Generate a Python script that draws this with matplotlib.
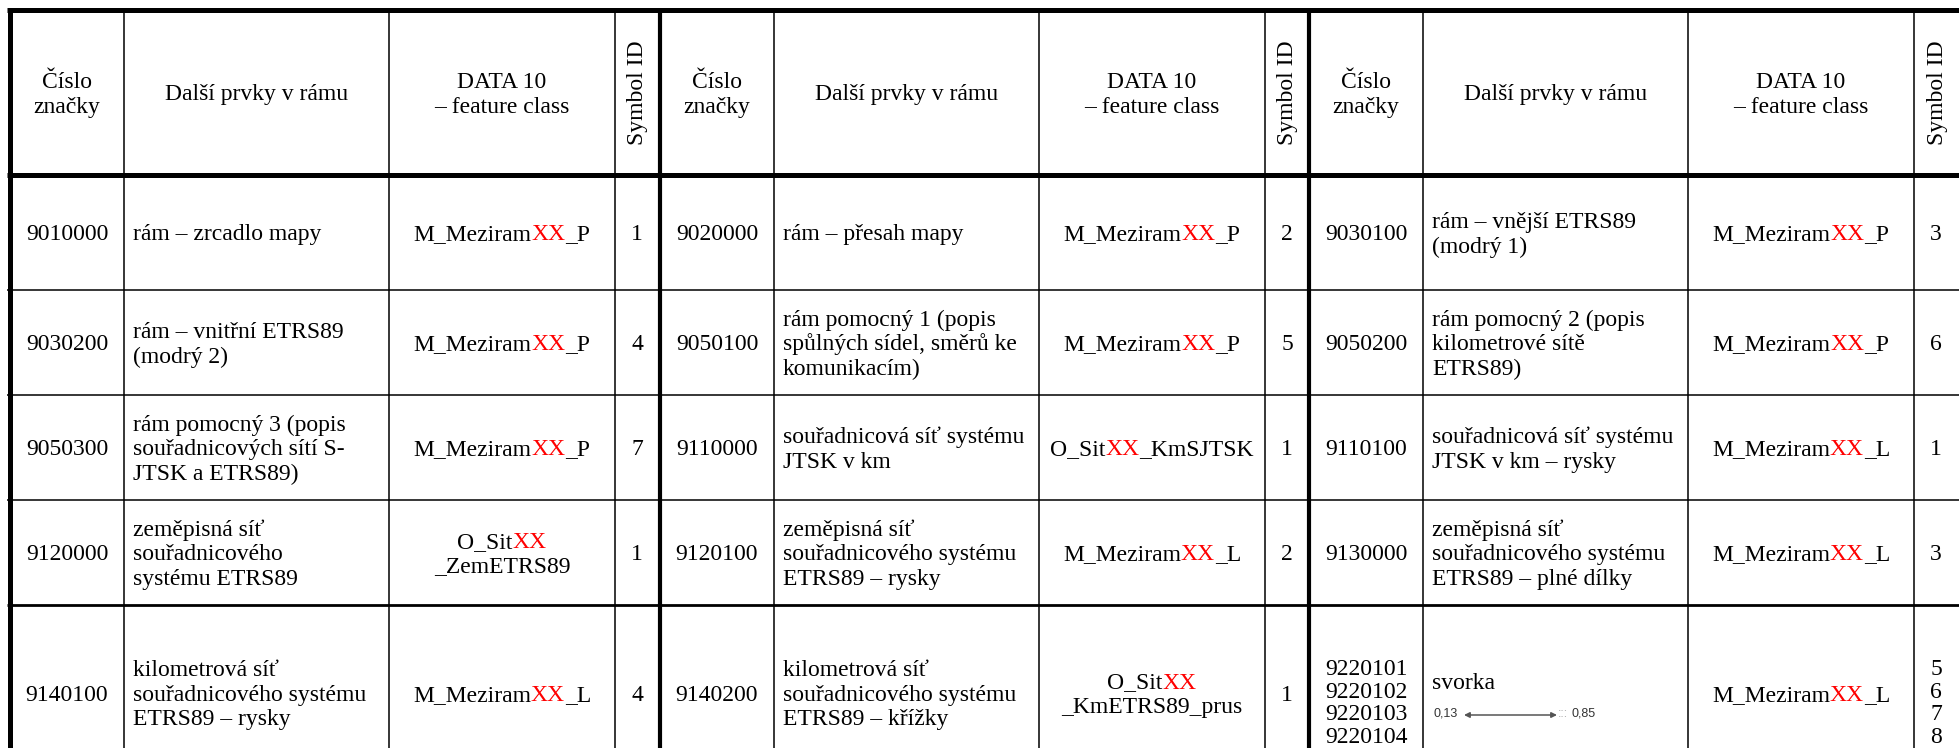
import re
import matplotlib
matplotlib.use('Agg')
import matplotlib.pyplot as plt

plt.rcParams['font.family'] = ['Liberation Serif', 'DejaVu Serif']

# ---- table content (3 column groups side by side) ----
header = ["Číslo\nznačky", "Další prvky v rámu", "DATA 10\n– feature class", "Symbol ID"]

codes = [
    ["9010000", "9020000", "9030100"],
    ["9030200", "9050100", "9050200"],
    ["9050300", "9110000", "9110100"],
    ["9120000", "9120100", "9130000"],
    ["9140100", "9140200", "9220101\n9220102\n9220103\n9220104"],
]

descriptions = [
    ["rám – zrcadlo mapy", "rám – přesah mapy", "rám – vnější ETRS89\n(modrý 1)"],
    ["rám – vnitřní ETRS89\n(modrý 2)", "rám pomocný 1 (popis\nspůlných sídel, směrů ke\nkomunikacím)",
     "rám pomocný 2 (popis\nkilometrové sítě\nETRS89)"],
    ["rám pomocný 3 (popis\nsouřadnicových sítí S-\nJTSK a ETRS89)", "souřadnicová síť systému\nJTSK v km",
     "souřadnicová síť systému\nJTSK v km – rysky"],
    ["zeměpisná síť\nsouřadnicového\nsystému ETRS89", "zeměpisná síť\nsouřadnicového systému\nETRS89 – rysky",
     "zeměpisná síť\nsouřadnicového systému\nETRS89 – plné dílky"],
    ["kilometrová síť\nsouřadnicového systému\nETRS89 – rysky", "kilometrová síť\nsouřadnicového systému\nETRS89 – křížky",
     "svorka"],
]

# {..} marks the red part
feature_classes = [
    ["M_Meziram{XX}_P", "M_Meziram{XX}_P", "M_Meziram{XX}_P"],
    ["M_Meziram{XX}_P", "M_Meziram{XX}_P", "M_Meziram{XX}_P"],
    ["M_Meziram{XX}_P", "O_Sit{XX}_KmSJTSK", "M_Meziram{XX}_L"],
    ["O_Sit{XX}\n_ZemETRS89", "M_Meziram{XX}_L", "M_Meziram{XX}_L"],
    ["M_Meziram{XX}_L", "O_Sit{XX}\n_KmETRS89_prus", "M_Meziram{XX}_L"],
]

symbol_ids = [
    ["1", "2", "3"],
    ["4", "5", "6"],
    ["7", "1", "1"],
    ["1", "2", "3"],
    ["4", "1", "5\n6\n7\n8"],
]

svorka_dims = ["0,13", "0,85"]

# ---- layout (pixels) ----
W, H = 1959, 748
group_x = [10, 660, 1309]
col_off = [0, 114, 379, 605, 649]
row_y = [10, 175, 290, 395, 500, 605, 780]
FS = 17
EM = FS * 100 / 72
STEP = 24.5

fig = plt.figure(figsize=(W / 100, H / 100), dpi=100)
ax = fig.add_axes([0, 0, 1, 1])
ax.set_xlim(0, W)
ax.set_ylim(H, 0)
ax.axis('off')
renderer = fig.canvas.get_renderer()


def put_rich(x, yb, line, ha):
    parts = [p for p in re.split(r'(\{[^}]*\})', line) if p]
    texts = []
    for p in parts:
        red = p.startswith('{')
        s = p[1:-1] if red else p
        texts.append(ax.text(0, yb, s, color='#ff0000' if red else 'black',
                             fontsize=FS, va='baseline', ha='left'))
    widths = [t.get_window_extent(renderer).width for t in texts]
    x0 = x - sum(widths) / 2 if ha == 'center' else x
    for t, w in zip(texts, widths):
        t.set_x(x0)
        x0 += w


def put_lines(x, yc, text, ha='center', step=STEP):
    lines = text.split('\n')
    n = len(lines)
    for i, line in enumerate(lines):
        yb = yc + (i - (n - 1) / 2) * step + 0.33 * EM
        put_rich(x, yb, line, ha)


# grid lines
ax.hlines(row_y[0], 7, W, color='black', lw=3.6)
ax.hlines(row_y[1], 7, W, color='black', lw=3.6)
for k, y in enumerate(row_y[2:-1]):
    ax.hlines(y, 7, W, color='black', lw=2.0 if k == 3 else 1.1)
for g, gx in enumerate(group_x):
    for c, off in enumerate(col_off):
        x = gx + off
        if c == 0:
            ax.vlines(x, row_y[0] - 2, H, color='black', lw=3.6 if g == 0 else 3.0)
        elif c < 4:
            ax.vlines(x, row_y[0], H, color='black', lw=1.1)

# header
for gx in group_x:
    for c in range(4):
        x0, x1 = gx + col_off[c], gx + col_off[c + 1]
        yc = (row_y[0] + row_y[1]) / 2
        if c == 3:
            ax.text((x0 + x1) / 2 + 1, yc, header[c], rotation=90, ha='center', va='center', fontsize=FS)
        else:
            put_lines((x0 + x1) / 2, yc, header[c])

# body
for r in range(len(codes)):
    yc = (row_y[r + 1] + row_y[r + 2]) / 2
    if r == len(codes) - 1:
        yc = 693
    for g, gx in enumerate(group_x):
        e = [gx + o for o in col_off]
        step = 22.5 if codes[r][g].count('\n') > 2 else STEP
        put_lines((e[0] + e[1]) / 2, yc + (8 if step < STEP else 0), codes[r][g], step=step)
        if descriptions[r][g] == "svorka":
            put_lines(e[1] + 9, 681, descriptions[r][g], ha='left')
            small = dict(fontsize=9, family='Liberation Sans', va='center', ha='left')
            ax.text(e[1] + 11, 714, svorka_dims[0], color='#333333', **small)
            ax.annotate('', xy=(e[1] + 41, 715), xytext=(e[1] + 134, 715),
                        arrowprops=dict(arrowstyle='<|-|>', color='#555555', lw=1.1,
                                        mutation_scale=8, shrinkA=0, shrinkB=0))
            ax.text(e[1] + 135, 714, ':::', color='#aaaaaa', **small)
            ax.text(e[1] + 149, 714, svorka_dims[1], color='#333333', **small)
        else:
            put_lines(e[1] + 9, yc, descriptions[r][g], ha='left')
        put_lines((e[2] + e[3]) / 2, yc, feature_classes[r][g])
        put_lines((e[3] + e[4]) / 2, yc + (8 if step < STEP else 0), symbol_ids[r][g], step=step)

fig.savefig('out.png', dpi=100)
